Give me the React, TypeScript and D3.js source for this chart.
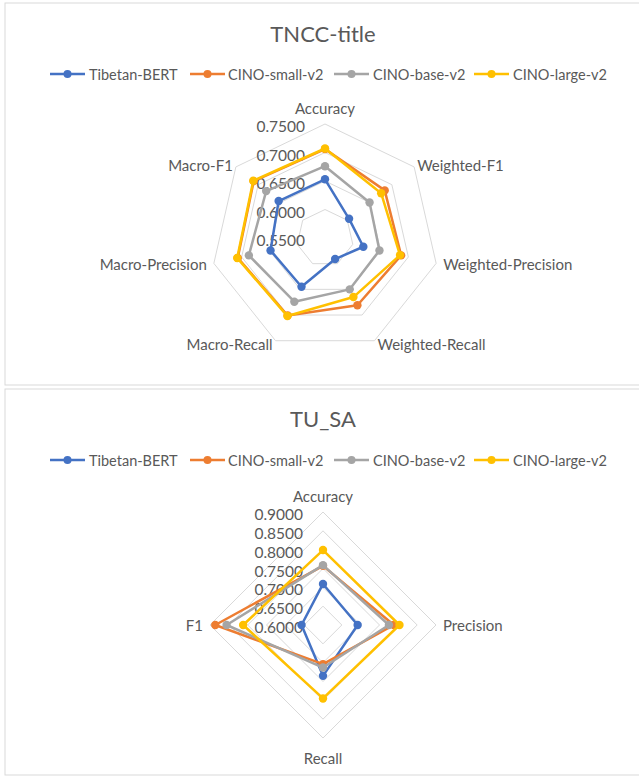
import React from "react";
import * as d3 from "d3";

const seriesNames = ["Tibetan-BERT", "CINO-small-v2", "CINO-base-v2", "CINO-large-v2"];
const seriesColors = ["#4472C4", "#ED7D31", "#A5A5A5", "#FFC000"];

// Chart 1: TNCC-title
const tnccAxes = ["Accuracy", "Weighted-F1", "Weighted-Precision", "Weighted-Recall", "Macro-Recall", "Macro-Precision", "Macro-F1"];
const tnccTibetanBERT = [0.653, 0.604, 0.619, 0.591, 0.645, 0.648, 0.654];
const tnccCinoSmall = [0.706, 0.684, 0.687, 0.681, 0.701, 0.707, 0.710];
const tnccCinoBase = [0.676, 0.650, 0.648, 0.650, 0.674, 0.687, 0.682];
const tnccCinoLarge = [0.707, 0.676, 0.685, 0.665, 0.702, 0.708, 0.711];
const tnccTicks = [0.55, 0.6, 0.65, 0.7, 0.75];

// Chart 2: TU_SA
const tusaAxes = ["Accuracy", "Precision", "Recall", "F1"];
const tusaTibetanBERT = [0.709, 0.692, 0.735, 0.657];
const tusaCinoSmall = [0.757, 0.788, 0.704, 0.886];
const tusaCinoBase = [0.759, 0.775, 0.713, 0.856];
const tusaCinoLarge = [0.799, 0.803, 0.795, 0.812];
const tusaTicks = [0.6, 0.65, 0.7, 0.75, 0.8, 0.85, 0.9];

const FONT = "Lato, 'Open Sans', sans-serif";
const TEXT = "#595959";
const GRID = "#D9D9D9";

type RadarProps = {
  title: string;
  axes: string[];
  series: number[][];
  ticks: number[];
  top: number;
  height: number;
  cx: number;
  cy: number;
  R: number;
  legendY: number;
  titleY: number;
};

function Radar({ title, axes, series, ticks, top, height, cx, cy, R, legendY, titleY }: RadarProps) {
  const n = axes.length;
  const r = d3.scaleLinear().domain([ticks[0], ticks[ticks.length - 1]]).range([0, R]);
  const angle = (i: number) => (i * 2 * Math.PI) / n;
  const ringLine = d3
    .lineRadial<number>()
    .angle((_, i) => angle(i))
    .radius((d) => d)
    .curve(d3.curveLinearClosed);
  const dataLine = d3
    .lineRadial<number>()
    .angle((_, i) => angle(i))
    .radius((d) => r(d))
    .curve(d3.curveLinearClosed);

  const legendItems = [
    { lineX: 50, textX: 89 },
    { lineX: 190, textX: 228 },
    { lineX: 334, textX: 373 },
    { lineX: 474, textX: 513 },
  ];

  return (
    <g>
      <rect x={5} y={top} width={640} height={height} fill="#fff" stroke={GRID} strokeWidth={1} />
      <text x={323} y={titleY} textAnchor="middle" dominantBaseline="central" fontSize={22} fill={TEXT} fontFamily={FONT}>
        {title}
      </text>
      {seriesNames.map((s, i) => (
        <g key={s}>
          <line x1={legendItems[i].lineX} x2={legendItems[i].lineX + 35} y1={legendY} y2={legendY} stroke={seriesColors[i]} strokeWidth={2.5} />
          <circle cx={legendItems[i].lineX + 17.5} cy={legendY} r={4} fill={seriesColors[i]} />
          <text x={legendItems[i].textX} y={legendY} dominantBaseline="central" fontSize={14.5} fill={TEXT} fontFamily={FONT}>
            {s}
          </text>
        </g>
      ))}
      <g transform={`translate(${cx},${cy})`}>
        {ticks.slice(1).map((t) => (
          <path key={t} d={ringLine(axes.map(() => r(t))) || ""} fill="none" stroke={GRID} strokeWidth={1} />
        ))}
        {ticks.map((t) => (
          <text key={"l" + t} x={-20} y={-r(t) + 2} textAnchor="end" dominantBaseline="central" fontSize={15.5} fill={TEXT} fontFamily={FONT}>
            {t.toFixed(4)}
          </text>
        ))}
        {series.map((vals, si) => (
          <g key={si}>
            <path d={dataLine(vals) || ""} fill="none" stroke={seriesColors[si]} strokeWidth={2.5} strokeLinejoin="round" />
            {vals.map((v, i) => (
              <circle key={i} cx={r(v) * Math.sin(angle(i))} cy={-r(v) * Math.cos(angle(i))} r={4.2} fill={seriesColors[si]} />
            ))}
          </g>
        ))}
        {axes.map((a, i) => {
          const th = angle(i);
          const s = Math.sin(th);
          const c = Math.cos(th);
          const vx = R * s;
          const vy = -R * c;
          let anchor = "middle";
          let x = vx;
          let y = vy;
          if (s > 0.1) {
            anchor = "start";
            x = vx + (s > 0.95 ? 7 : 3);
          } else if (s < -0.1) {
            anchor = "end";
            x = vx - (s < -0.95 ? 7 : 3);
          }
          if (c > 0.9) y = vy - 16;
          else if (c < -0.95) y = vy + 20;
          else y = vy - c * 3.5;
          return (
            <text key={a} x={x} y={y} textAnchor={anchor} dominantBaseline="central" fontSize={15} fill={TEXT} fontFamily={FONT}>
              {a}
            </text>
          );
        })}
      </g>
    </g>
  );
}

export default function App() {
  return (
    <svg width={639} height={778} style={{ position: "absolute", left: 0, top: 0, background: "#fff" }}>
      <rect x={0} y={0} width={639} height={778} fill="#fff" />
      <Radar
        title="TNCC-title"
        axes={tnccAxes}
        series={[tnccTibetanBERT, tnccCinoSmall, tnccCinoBase, tnccCinoLarge]}
        ticks={tnccTicks}
        top={3}
        height={382}
        cx={325}
        cy={238}
        R={114}
        titleY={33}
        legendY={74}
      />
      <Radar
        title="TU_SA"
        axes={tusaAxes}
        series={[tusaTibetanBERT, tusaCinoSmall, tusaCinoBase, tusaCinoLarge]}
        ticks={tusaTicks}
        top={389}
        height={386}
        cx={323}
        cy={625}
        R={113}
        titleY={418}
        legendY={460}
      />
    </svg>
  );
}
